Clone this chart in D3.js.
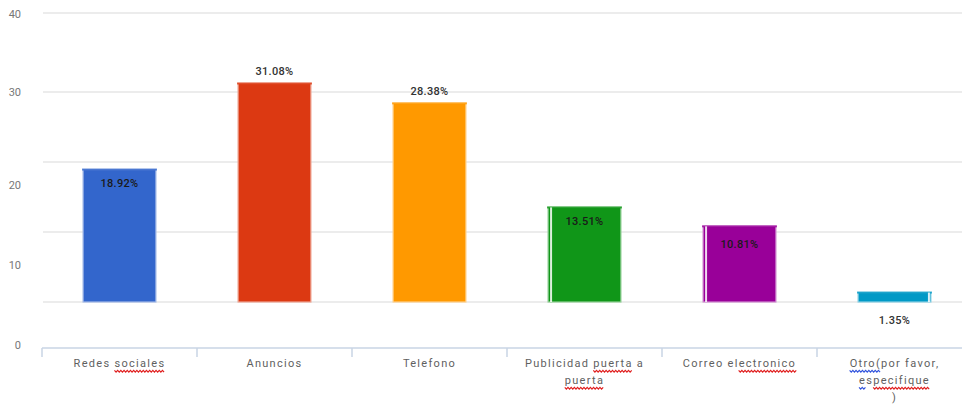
<!DOCTYPE html>
<html><head><meta charset="utf-8">
<script src="https://cdn.jsdelivr.net/npm/d3@7"></script>
<style>body{margin:0;background:#fff}svg{display:block}text{font-family:Roboto,"Liberation Sans",sans-serif}</style>
</head><body><svg id="c" width="962" height="404"></svg>
<script>
const categories = ["Redes sociales","Anuncios","Telefono","Publicidad puerta a puerta","Correo electronico","Otro(por favor, especifique)"];
const labelLines = [["Redes sociales"],["Anuncios"],["Telefono"],["Publicidad puerta a","puerta"],["Correo electronico"],["Otro(por favor,","especifique",")"]];
const values = [18.92,31.08,28.38,13.51,10.81,1.35];
const yTicks = [0,10,20,30,40];
// spell-check marks: [word, start char, length, kind]
const spellMarks = [["sociales",0,8,"red"],["puerta",0,6,"red"],["electronico",2,9,"red"],["Otro(por",0,5,"blue"],["especifique",0,1,"blue"],["especifique",2,9,"red"]];

const colors = ["#3366cc","#dc3912","#ff9900","#109618","#990099","#0099c6"];
const placement = ["inside","above","above","inside","inside","below"];
const sliver = [null,null,null,"left","left","right"];
const markColor = {red:"#e02020", blue:"#3355dd"};

const svg = d3.select("#c");
const x = d3.scaleBand().domain(categories).range([42,972]).paddingInner(0.53).paddingOuter(0.265);
const y = d3.scaleLinear().domain(yTicks).range([302,232,162,92,13]);
const yLab = d3.scaleLinear().domain(yTicks).range([345,265,185,92,14]);
const step = x.step(), half = step*x.paddingInner()/2;

// gridlines
svg.append("g").selectAll("line").data(yTicks).join("line")
  .attr("x1",43).attr("x2",962).attr("y1",d=>y(d)).attr("y2",d=>y(d))
  .attr("stroke","#d9d9d9").attr("stroke-width",1);

// y tick labels
svg.append("g").selectAll("text").data(yTicks).join("text")
  .attr("x",21).attr("y",d=>yLab(d)).attr("dy","0.35em").attr("text-anchor","end")
  .attr("font-size",11).attr("fill","#777").text(d=>d);

// x axis
const axY = 348;
svg.append("line").attr("x1",42).attr("x2",962).attr("y1",axY).attr("y2",axY).attr("stroke","#c8d4e4").attr("stroke-width",1.5);
svg.append("g").selectAll("line").data(categories).join("line")
  .attr("x1",d=>x(d)-half).attr("x2",d=>x(d)-half).attr("y1",axY).attr("y2",axY+9)
  .attr("stroke","#c8d4e4").attr("stroke-width",1.5);

// bars
const bars = svg.append("g");
categories.forEach((c,i)=>{
  const col = colors[i], light = d3.interpolateRgb(col,"#fff")(0.55);
  const bx = x(c), bw = x.bandwidth(), top = y(values[i]), base = y(0);
  bars.append("rect").attr("x",bx).attr("y",top).attr("width",bw).attr("height",base-top)
    .attr("fill",col).attr("stroke",light).attr("stroke-width",1.2);
  bars.append("rect").attr("x",bx-1).attr("y",top-1).attr("width",bw+2).attr("height",2).attr("fill",col).attr("opacity",0.8);
  if(sliver[i]){
    const sx = sliver[i]==="left" ? bx+2 : bx+bw-3;
    bars.append("rect").attr("x",sx).attr("y",top).attr("width",2).attr("height",base-top).attr("fill","#fff").attr("opacity",0.85);
  }
  let ly;
  if(placement[i]==="inside") ly = top+14+(values[i]<12?4:0);
  else if(placement[i]==="above") ly = top-12;
  else ly = base+18;
  svg.append("text").attr("x",bx+bw/2).attr("y",ly).attr("dy","0.35em").attr("text-anchor","middle")
    .attr("font-size",11).attr("font-weight",500).attr("letter-spacing",0.3)
    .attr("fill",placement[i]==="inside"?"#1a1a1a":"#333").text(values[i].toFixed(2)+"%");
});

// category labels
const lab = svg.append("g");
function squiggle(x0,x1,yy,col){
  let p = `M${x0},${yy}`, k=0;
  for(let xx=x0+1.6; xx<=x1+0.1; xx+=1.6){ k++; p += `L${xx},${yy+(k%2?1.8:0)}`; }
  lab.append("path").attr("d",p).attr("fill","none").attr("stroke",col).attr("stroke-width",1.2);
}
categories.forEach((c,i)=>{
  labelLines[i].forEach((line,j)=>{
    const t = lab.append("text").attr("x",x(c)+x.bandwidth()/2).attr("y",363+j*17).attr("dy","0.35em")
      .attr("text-anchor","middle").attr("font-size",11).attr("letter-spacing",1.3).attr("fill","#5f5f5f").text(line);
    const node = t.node();
    const bb = node.getBBox();
    let off = 0;
    line.split(" ").forEach(w=>{
      const idx = line.indexOf(w,off);
      off = idx + w.length;
      spellMarks.filter(m=>m[0]===w).forEach(m=>{
        const s = idx+m[1];
        const sx = bb.x + (s>0 ? node.getSubStringLength(0,s) : 0);
        const wl = node.getSubStringLength(s,m[2]);
        squiggle(sx, sx+wl, bb.y+bb.height+0.5, markColor[m[3]]);
      });
    });
  });
});
</script></body></html>
